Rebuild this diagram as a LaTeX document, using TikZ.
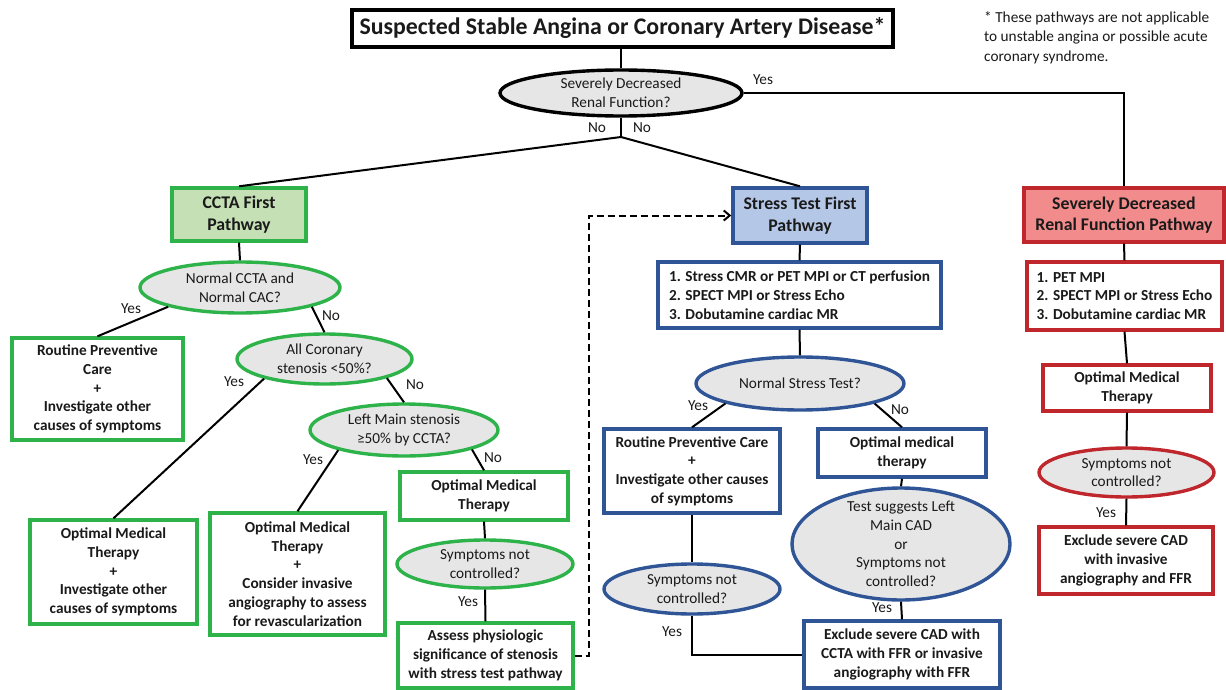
\documentclass[tikz,border=0pt]{standalone}
\usepackage{fontspec}
\setmainfont{Carlito}
\usetikzlibrary{shapes.geometric,arrows.meta}
\definecolor{gbord}{HTML}{2DB34A}
\definecolor{gfill}{HTML}{C5E0B4}
\definecolor{bbord}{HTML}{2F5597}
\definecolor{bfill}{HTML}{B4C7E7}
\definecolor{rbord}{HTML}{C0272D}
\definecolor{rfill}{HTML}{F28B8B}
\definecolor{efill}{HTML}{E6E6E6}
\definecolor{txt}{HTML}{1A1A1A}
\tikzset{
 base/.style={inner sep=0pt, text=txt},
 box/.style={base, draw, rectangle, line width=3.4pt, fill=white, align=center, font=\bfseries\fontsize{15.3}{18.7}\selectfont},
 hdr/.style={box, font=\bfseries\fontsize{17.8}{21.5}\selectfont},
 ell/.style={base, draw, ellipse, line width=3.4pt, fill=efill},
 etext/.style={base, align=center, font=\fontsize{15.3}{18.7}\selectfont},
 lbl/.style={base, font=\fontsize{15.3}{17}\selectfont},
 conn/.style={line width=2pt, draw=black},
 sz/.style 2 args={minimum width=#1pt, minimum height=#2pt},
 gbox/.style={box, draw=gbord},
 bbox/.style={box, draw=bbord},
 rbox/.style={box, draw=rbord},
}
\begin{document}
\begin{tikzpicture}[x=1pt,y=-1pt]
\useasboundingbox[fill=white] (0,0) rectangle (1226,690);

% title and footnote
\node[box, draw=black, sz={541}{37}, font=\bfseries\fontsize{23.8}{26}\selectfont] (title) at (622.5,28.5) {Suspected Stable Angina or Coronary Artery Disease*};
\node[base, align=left, anchor=north west, font=\fontsize{15.3}{19.5}\selectfont] (foot) at (984,11) {* These pathways are not applicable\\to unstable angina or possible acute\\coronary syndrome.};

% top question
\node[ell, draw=black, sz={242}{46}] (e0) at (621,93) {};
\node[etext] (e0t) at (e0.center) {Severely Decreased\\Renal Function?};

% pathway headers
\node[hdr, draw=gbord, fill=gfill, sz={134}{53}] (ccta) at (239,214.5) {CCTA First\\Pathway};
\node[hdr, draw=bbord, fill=bfill, sz={134}{55}] (stress) at (800,215.5) {Stress Test First\\Pathway};
\node[hdr, draw=rbord, fill=rfill, sz={200}{54}] (renal) at (1124,215) {Severely Decreased\\Renal Function Pathway};

% CCTA pathway
\node[ell, draw=gbord, sz={200}{51}] (g1) at (240,287.5) {};
\node[etext] (g1t) at (g1.center) {Normal CCTA and\\Normal CAC?};
\node[gbox, sz={171}{102}] (groutine) at (97.5,389) {Routine Preventive\\Care\\+\\Investigate other\\causes of symptoms};
\node[ell, draw=gbord, sz={175}{50}] (g2) at (324.5,359) {};
\node[etext] (g2t) at (g2.center) {All Coronary\\stenosis <50\%?};
\node[gbox, sz={167}{104}] (gomt1) at (113.5,572) {Optimal Medical\\Therapy\\+\\Investigate other\\causes of symptoms};
\node[ell, draw=gbord, sz={188}{52}] (g3) at (404,430) {};
\node[etext] (g3t) at (g3.center) {Left Main stenosis\\≥50\% by CCTA?};
\node[gbox, sz={175}{122}] (gomt2) at (297.5,574) {Optimal Medical\\Therapy\\+\\Consider invasive\\angiography to assess\\for revascularization};
\node[gbox, sz={168}{48}] (gomt3) at (484,496) {Optimal Medical\\Therapy};
\node[ell, draw=gbord, sz={176}{48}] (g4) at (485,564) {};
\node[etext] (g4t) at (g4.center) {Symptoms not\\controlled?};
\node[gbox, sz={175}{65}] (gassess) at (485.5,655.5) {Assess physiologic\\significance of stenosis\\with stress test pathway};

% Stress pathway
\node[bbox, sz={283}{66}, align=left] (blist) at (799.5,295) {1. Stress CMR or PET MPI or CT perfusion\\2. SPECT MPI or Stress Echo\\3. Dobutamine cardiac MR};
\node[ell, draw=bbord, sz={208}{53}] (b1) at (800,383.5) {};
\node[etext] (b1t) at (b1.center) {Normal Stress Test?};
\node[bbox, sz={176}{84}] (broutine) at (692,471) {Routine Preventive Care\\+\\Investigate other causes\\of symptoms};
\node[bbox, sz={168}{48}] (bomt) at (902,453) {Optimal medical\\therapy};
\node[ell, draw=bbord, sz={218}{112}] (b2) at (901,544) {};
\node[etext] (b2t) at (b2.center) {Test suggests Left\\Main CAD\\or\\Symptoms not\\controlled?};
\node[ell, draw=bbord, sz={176}{50}] (b3) at (692,589) {};
\node[etext] (b3t) at (b3.center) {Symptoms not\\controlled?};
\node[bbox, sz={196}{67}] (bexcl) at (902,654.5) {Exclude severe CAD with\\CCTA with FFR or invasive\\angiography with FFR};

% Renal pathway
\node[rbox, sz={195}{68}, align=left] (rlist) at (1124.5,296) {1. PET MPI\\2. SPECT MPI or Stress Echo\\3. Dobutamine cardiac MR};
\node[rbox, sz={168}{46}] (romt) at (1127,388) {Optimal Medical\\Therapy};
\node[ell, draw=rbord, sz={175}{49}] (r1) at (1126.5,472.5) {};
\node[etext] (r1t) at (r1.center) {Symptoms not\\controlled?};
\node[rbox, sz={174}{67}] (rexcl) at (1126,560.5) {Exclude severe CAD\\with invasive\\angiography and FFR};

% connectors
\coordinate (split) at (621,137);
\draw[conn] (title.south -| e0.north) -- (e0.north);
\draw[conn] (e0.east) -| (renal.north);
\draw[conn] (e0.south) -- (split);
\draw[conn] (split) -- (ccta.north);
\draw[conn] (split) -- (stress.north);

\draw[conn] (ccta.south) -- (g1.north);
\draw[conn] (g1.195) -- (groutine.north);
\draw[conn] (g1.-15) -- (g2.north);
\draw[conn] (g2.198) -- (gomt1.north);
\draw[conn] (g2.-17.5) -- (g3.north);
\draw[conn] (g3.197) -- (gomt2.north);
\draw[conn] (g3.-16.4) -- (gomt3.north);
\draw[conn] (gomt3.south) -- (g4.north);
\draw[conn] (g4.south) -- (gassess.north);
\draw[conn, dashed, dash pattern=on 7pt off 4pt, -{Straight Barb[length=6pt,width=10pt]}] (gassess.east) -- ++(14,0) |- (stress.west);

\draw[conn] (stress.south) -- (blist.north);
\draw[conn] (blist.south) -- (b1.north);
\draw[conn] (b1.195) -- (broutine.north);
\draw[conn] (b1.-15) -- (bomt.north);
\draw[conn] (bomt.south) -- (b2.north);
\draw[conn] (b2.south) -- (bexcl.north);
\draw[conn] (broutine.south) -- (b3.north);
\draw[conn] (b3.south) |- (bexcl.west);

\draw[conn] (renal.south) -- (rlist.north);
\draw[conn] (rlist.south) -- (romt.north);
\draw[conn] (romt.south) -- (r1.north);
\draw[conn] (r1.south) -- (rexcl.north);

% labels
\node[lbl] (l1) at (763,80) {Yes};
\node[lbl] (l2) at (597,128) {No};
\node[lbl] (l3) at (642,128) {No};
\node[lbl] (l4) at (131,309) {Yes};
\node[lbl] (l5) at (331,316) {No};
\node[lbl] (l6) at (234,382) {Yes};
\node[lbl] (l7) at (415,385) {No};
\node[lbl] (l8) at (313,460) {Yes};
\node[lbl] (l9) at (493,458) {No};
\node[lbl] (l10) at (468,602) {Yes};
\node[lbl] (l11) at (698,406) {Yes};
\node[lbl] (l12) at (900,410) {No};
\node[lbl] (l13) at (882,608) {Yes};
\node[lbl] (l14) at (672,632) {Yes};
\node[lbl] (l15) at (1106,513) {Yes};
\end{tikzpicture}
\end{document}
